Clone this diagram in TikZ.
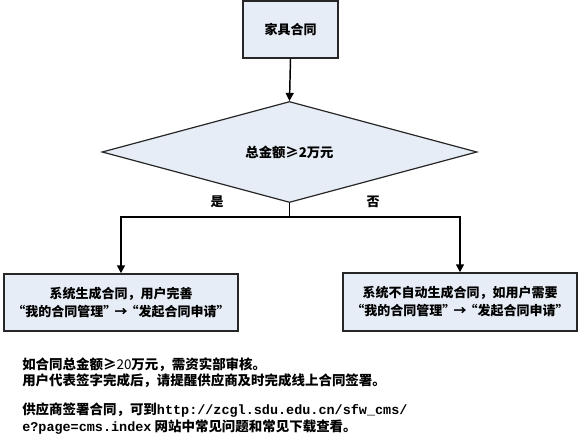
\documentclass[tikz,border=0pt]{standalone}
\usepackage{fontspec}
\setmainfont{Noto Sans CJK SC}
\newfontfamily\monofnt{Liberation Mono}
\newcommand{\myLq}{\makebox[0.85em][r]{“}}
\newcommand{\myRq}{\makebox[0.85em][l]{”}}
\newcommand{\myArr}{\makebox[1em][c]{→}}
\usetikzlibrary{arrows.meta,shapes.geometric}
\definecolor{boxfill}{HTML}{E7EDF6}
\tikzset{
  procbox/.style={draw=black!85, line width=1.1pt, fill=boxfill, rectangle, inner sep=0pt, align=center,
    font=\fontsize{9.75pt}{13.5pt}\selectfont\bfseries},
  decbox/.style={draw=black!85, line width=0.9pt, fill=boxfill, diamond, inner sep=0pt,
    font=\fontsize{10pt}{12pt}\selectfont\bfseries},
  conn/.style={line width=1.1pt, black},
  arr/.style={conn, -{Triangle[length=6pt,width=6pt]}},
  lbl/.style={font=\fontsize{9.75pt}{12pt}\selectfont\bfseries, inner sep=0pt},
  note/.style={font=\fontsize{10.1pt}{12pt}\selectfont\bfseries, inner sep=0pt, anchor=west}
}
\begin{document}
\begin{tikzpicture}[x=0.75pt,y=-0.75pt]
\useasboundingbox (0,0) rectangle (581,445);
\node[procbox, minimum width=71.25pt, minimum height=42.75pt] (top) at (290.5,29.5) {家具合同};
\node[decbox, minimum width=281.25pt, minimum height=42pt] (dec) at (289.5,152) {总金额≥2万元};
\node[procbox, minimum width=175.5pt, minimum height=42.75pt] (left) at (121,302.5) {系统生成合同，用户完善\\\myLq 我的合同管理\myRq\myArr\myLq 发起合同申请\myRq};
\node[procbox, minimum width=175.5pt, minimum height=43.5pt] (right) at (460,302) {系统不自动生成合同，如用户需要\\\myLq 我的合同管理\myRq\myArr\myLq 发起合同申请\myRq};
\coordinate (j) at (289.5,217);
\draw[arr] (top.south) -- (dec.north);
\draw[conn] (dec.south) -- (j);
\draw[arr] (j) -| (left.north);
\draw[arr] (j) -| (right.north);
\node[lbl] (yes) at (217,202) {是};
\node[lbl] (no) at (373,202) {否};
\node[note] (n1) at (22,365) {如合同总金额≥{\mdseries 20}万元，需资实部审核。};
\node[note] (n2) at (22,381) {用户代表签字完成后，请提醒供应商及时完成线上合同签署。};
\node[note] (n3) at (22,410) {供应商签署合同，可到{\monofnt http://zcgl.sdu.edu.cn/sfw\_cms/}};
\node[note] (n4) at (22,427) {{\monofnt e?page=cms.index} 网站中常见问题和常见下载查看。};
\end{tikzpicture}
\end{document}
